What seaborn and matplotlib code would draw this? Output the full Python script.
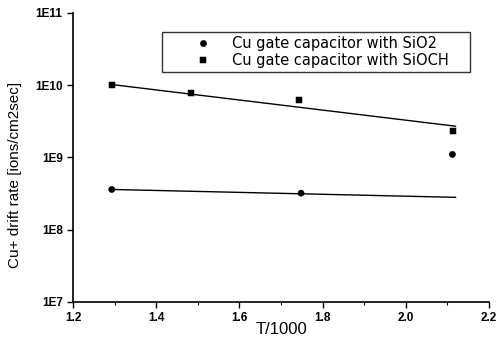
import numpy as np
import pandas as pd
import seaborn as sns
import matplotlib
matplotlib.use('Agg')
import matplotlib.pyplot as plt
from matplotlib.ticker import FixedLocator, MultipleLocator, NullLocator

# measured points
sio2_x = [1.293, 1.748, 2.112]
sio2_y = [3.6e8, 3.2e8, 1.1e9]
sioch_x = [1.293, 1.484, 1.744, 2.113]
sioch_y = [1.0e10, 7.8e9, 6.3e9, 2.3e9]

# fitted lines (endpoints)
fit_x = [1.293, 2.12]
fit_sio2 = [3.6e8, 2.8e8]
fit_sioch = [1.02e10, 2.7e9]

lab1 = 'Cu gate capacitor with SiO2'
lab2 = 'Cu gate capacitor with SiOCH'

pts = pd.DataFrame({
    'x': sio2_x + sioch_x,
    'y': sio2_y + sioch_y,
    'sample': [lab1] * len(sio2_x) + [lab2] * len(sioch_x),
})
fits = pd.DataFrame({
    'x': fit_x + fit_x,
    'y': fit_sio2 + fit_sioch,
    'sample': [lab1] * 2 + [lab2] * 2,
})

sns.set_style('ticks')
plt.rcParams['font.family'] = ['Liberation Sans', 'DejaVu Sans']
plt.rcParams['text.color'] = 'black'
plt.rcParams['axes.labelcolor'] = 'black'
plt.rcParams['xtick.color'] = 'black'
plt.rcParams['ytick.color'] = 'black'
plt.rcParams['axes.edgecolor'] = 'black'

fig = plt.figure(figsize=(4.97, 3.49), dpi=100)
ax = fig.add_axes([0.147, 0.135, 0.837, 0.828])

sns.lineplot(data=fits, x='x', y='y', units='sample', estimator=None,
             color='black', linewidth=1.0, ax=ax, legend=False)
sns.scatterplot(data=pts, x='x', y='y', style='sample', markers=['o', 's'],
                color='black', s=20, edgecolor='black', ax=ax)

ax.set_yscale('log')
ax.set_ylim(1e7, 1e11)
ax.set_xlim(1.2, 2.2)
ax.yaxis.set_major_locator(FixedLocator([1e7, 1e8, 1e9, 1e10, 1e11]))
ax.yaxis.set_minor_locator(NullLocator())
ax.set_yticklabels(['1E7', '1E8', '1E9', '1E10', '1E11'])
ax.xaxis.set_major_locator(MultipleLocator(0.2))
ax.xaxis.set_minor_locator(MultipleLocator(0.1))
ax.set_xticklabels([f'{v:.1f}' for v in ax.get_xticks()])
ax.tick_params(axis='both', which='major', labelsize=8.5, length=4, width=1, direction='out')
ax.tick_params(axis='x', which='minor', length=2.5, width=0.8, direction='out')
for t in ax.get_xticklabels() + ax.get_yticklabels():
    t.set_fontweight('bold')

ax.set_xlabel('T/1000', fontsize=12, labelpad=-2)
ax.set_ylabel('Cu+ drift rate [ions/cm2sec]', fontsize=11)
ax.yaxis.set_label_coords(-0.122, 0.44)

for s in ['left', 'bottom']:
    ax.spines[s].set_linewidth(1.2)
sns.despine(ax=ax)

leg = ax.legend(loc='upper left', bbox_to_anchor=(0.214, 0.934, 0.740, 0.0),
                mode='expand', frameon=True, fancybox=False, edgecolor='black',
                handletextpad=-0.5, handlelength=5, borderpad=0.3,
                labelspacing=0.12, borderaxespad=0,
                prop={'family': 'DejaVu Sans', 'size': 10.5})
leg.get_frame().set_linewidth(1.0)

fig.savefig('out.png', dpi=100)
